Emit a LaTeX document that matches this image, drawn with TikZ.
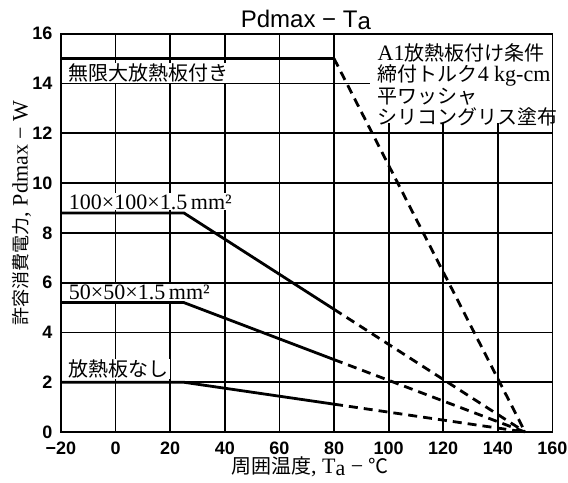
\documentclass[tikz,border=0pt]{standalone}
\usepackage{fontspec}
\setmainfont{Liberation Serif}
\newfontfamily\jpfont{Noto Sans CJK JP}
\newfontfamily\hvfont{Liberation Sans}
\usepackage{tikz}
\usetikzlibrary{arrows,arrows.meta}

\begin{document}
\begin{tikzpicture}[x=1.365pt,y=12.45pt,
		rule/.style={line width=0.9pt},
		curve/.style={line width=1.4pt},
		ext/.style={line width=1.4pt, dash pattern=on 4.5pt off 3pt},
		num/.style={font=\hvfont\bfseries\fontsize{9}{9}\selectfont, inner sep=1pt},
		jp/.style={font=\jpfont\fontsize{10}{10}\selectfont, inner sep=0.5pt, fill=white},
		size/.style={font=\fontsize{11}{11}\selectfont, inner sep=0.5pt, fill=white}]
		%\draw [help lines] (-20,0) grid (160,16);
		\useasboundingbox (-42.34,-2.008) rectangle (165.7,17.35);
		\draw [rule] (-20,0) grid [xstep=20,ystep=2] (160,16);
		\fill [white] (93.2,12.4) rectangle (160,16);
		\draw [rule] (-20,0) rectangle (160,16);
		% labels on the curves
		\node [jp, anchor=west] (inflab) at (-17.6,14.42) {無限大放熱板付き};
		\node [size, anchor=west] (biglab) at (-17.6,9.24) {100×100×1.5\,mm²};
		\node [size, anchor=west] (smalllab) at (-17.6,5.62) {50×50×1.5\,mm²};
		\node [jp, anchor=west] (nonelab) at (-17.6,2.53) {放熱板なし};
		\node [jp, anchor=north west, align=left, fill=none] (cond) at (95.5,15.65)
			{{\rmfamily\fontsize{11}{10}\selectfont A1}放熱板付け条件\\[0.3pt]締付トルク{\rmfamily\fontsize{11}{10}\selectfont 4 kg-cm}\\[0.3pt]平ワッシャ\\[0.3pt]シリコングリス塗布};
		% curves
		\draw [curve] (-20,15) -- (80,15);
		\draw [ext] (80,15) -- (150,0);
		\draw [curve] (-20,8.8) -- (25,8.8) -- (80,4.93);
		\draw [ext] (80,4.93) -- (150,0);
		\draw [curve] (-20,5.2) -- (25,5.2) -- (80,2.91);
		\draw [ext] (80,2.91) -- (150,0);
		\draw [curve] (-20,2) -- (25,2) -- (80,1.12);
		\draw [ext] (80,1.12) -- (150,0);
		% title and axes
		\node [font=\hvfont\fontsize{12}{12}\selectfont] (title) at (69.7,16.55) {Pdmax − T\raisebox{-1pt}{a}};
		\node [font=\fontsize{11}{11}\selectfont] (xlab) at (71.2,-1.41) {{\jpfont\fontsize{10}{10}\selectfont 周囲温度}, T\raisebox{-1pt}{a} − {\jpfont\fontsize{10}{10}\selectfont ℃}};
		\node [rotate=90, font=\fontsize{11}{11}\selectfont] (ylab) at (-34.4,8.8) {{\jpfont\fontsize{9}{9}\selectfont 許容消費電力}, Pdmax − W};
		% x ticks
		\node [num] (xm20) at (-20,-0.64) {−20};
		\node [num] (x0) at (0,-0.64) {0};
		\node [num] (x20) at (20,-0.64) {20};
		\node [num] (x40) at (40,-0.64) {40};
		\node [num] (x60) at (60,-0.64) {60};
		\node [num] (x80) at (80,-0.64) {80};
		\node [num] (x100) at (100,-0.64) {100};
		\node [num] (x120) at (120,-0.64) {120};
		\node [num] (x140) at (140,-0.64) {140};
		\node [num] (x160) at (160,-0.64) {160};
		% y ticks
		\node [num, anchor=east] (y0) at (-22.3,0) {0};
		\node [num, anchor=east] (y2) at (-22.3,2) {2};
		\node [num, anchor=east] (y4) at (-22.3,4) {4};
		\node [num, anchor=east] (y6) at (-22.3,6) {6};
		\node [num, anchor=east] (y8) at (-22.3,8) {8};
		\node [num, anchor=east] (y10) at (-22.3,10) {10};
		\node [num, anchor=east] (y12) at (-22.3,12) {12};
		\node [num, anchor=east] (y14) at (-22.3,14) {14};
		\node [num, anchor=east] (y16) at (-22.3,16) {16};
	\end{tikzpicture}
\end{document}
